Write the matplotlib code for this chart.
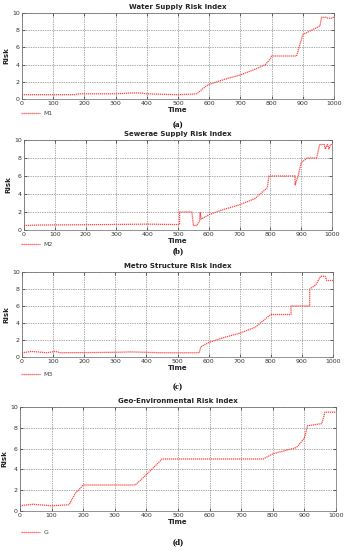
import matplotlib
matplotlib.use("Agg")
import matplotlib.pyplot as plt

# breakpoints of each risk index (time, risk)
m1_t = [0, 170, 180, 300, 350, 380, 400, 500, 560, 590, 600, 650, 700, 750, 780, 795, 800, 880, 900, 945, 955, 960, 975, 980, 995, 1000]
m1_v = [0.5, 0.5, 0.6, 0.6, 0.7, 0.7, 0.6, 0.5, 0.6, 1.5, 1.7, 2.3, 2.8, 3.5, 4.0, 4.6, 5.0, 5.0, 7.5, 8.3, 8.5, 9.5, 9.5, 9.4, 9.4, 9.6]

m2_t = [0, 50, 250, 400, 505, 505, 545, 550, 560, 570, 572, 575, 600, 650, 700, 750, 790, 795, 880, 880, 890, 900, 920, 950, 960, 975, 978, 985, 990, 995, 1000]
m2_v = [0.5, 0.55, 0.6, 0.65, 0.6, 2.0, 2.0, 0.5, 0.5, 1.0, 2.0, 1.2, 1.7, 2.3, 2.8, 3.5, 4.7, 6.0, 6.0, 5.0, 6.0, 7.5, 8.0, 8.0, 9.5, 9.5, 9.0, 9.5, 9.0, 9.5, 9.5]

m3_t = [0, 30, 50, 80, 105, 115, 120, 300, 350, 400, 450, 570, 575, 600, 650, 700, 750, 790, 800, 865, 865, 925, 925, 945, 960, 975, 980, 1000]
m3_v = [0.5, 0.65, 0.6, 0.5, 0.65, 0.6, 0.5, 0.55, 0.6, 0.55, 0.5, 0.5, 1.2, 1.7, 2.3, 2.8, 3.5, 4.7, 5.0, 5.0, 6.0, 6.0, 8.0, 8.5, 9.5, 9.5, 9.0, 9.0]

g_t = [0, 40, 60, 100, 155, 175, 185, 200, 365, 400, 450, 770, 800, 850, 875, 900, 910, 955, 965, 1000]
g_v = [0.5, 0.65, 0.6, 0.5, 0.6, 1.7, 2.0, 2.5, 2.5, 3.5, 5.0, 5.0, 5.5, 5.9, 6.1, 7.0, 8.2, 8.4, 9.5, 9.5]

titles = ["Water Supply Risk Index", "Sewerae Supply Risk Index",
          "Metro Structure Risk Index", "Geo-Environmental Risk Index"]
labels = ["M1", "M2", "M3", "G"]
captions = ["(a)", "(b)", "(c)", "(d)"]
xlabels = ["Time", "Time", "Time", "TIme"]
series = [(m1_t, m1_v), (m2_t, m2_v), (m3_t, m3_v), (g_t, g_v)]

W, H = 345, 550
# axes boxes in pixels: left, top, right, bottom
boxes = [(22, 13, 334, 99), (24, 140, 332, 230), (22, 272, 333, 357), (20, 407, 336, 511)]
legend_y = [113, 244, 374, 532]
caption_y = [125, 251, 387, 542]

fig = plt.figure(figsize=(W / 100, H / 100), dpi=100)

for i in range(4):
    l, t, r, b = boxes[i]
    ax = fig.add_axes([l / W, 1 - b / H, (r - l) / W, (b - t) / H])
    ts, vs = series[i]
    line, = ax.plot(ts, vs, color="#ff4545", linestyle=(0, (1, 0.6)), linewidth=0.9)
    ax.set_xlim(0, 1000)
    ax.set_ylim(0, 10)
    ax.set_xticks(range(0, 1001, 100))
    ax.set_yticks(range(0, 11, 2))
    ax.grid(True, color="#555555", linestyle=(0, (1, 1.5)), linewidth=0.5)
    ax.tick_params(labelsize=4.5, labelcolor="#333333", direction="in", length=2, width=0.4,
                   pad=1.5, top=True, right=True)
    for s in ax.spines.values():
        s.set_linewidth(0.5)
        s.set_color("#666666")
    ax.set_title(titles[i], fontsize=5, fontweight="bold", pad=3, color="#222222")
    ax.set_xlabel(xlabels[i], fontsize=5, fontweight="bold", labelpad=1, color="#222222")
    ax.set_ylabel("Risk", fontsize=5, fontweight="bold", labelpad=2, color="#222222")
    leg = fig.legend([line], [labels[i]], loc="center left", bbox_to_anchor=(18 / W, 1 - legend_y[i] / H),
                     frameon=False, fontsize=4.5, handlelength=3, handletextpad=0.6, borderpad=0)
    for txt in leg.get_texts():
        txt.set_color("#444444")
    fig.text(178 / W, 1 - caption_y[i] / H, captions[i], ha="center", va="center",
             fontsize=6.5, fontweight="bold", family="Liberation Serif")

fig.savefig("out.png", dpi=100, facecolor="white")
